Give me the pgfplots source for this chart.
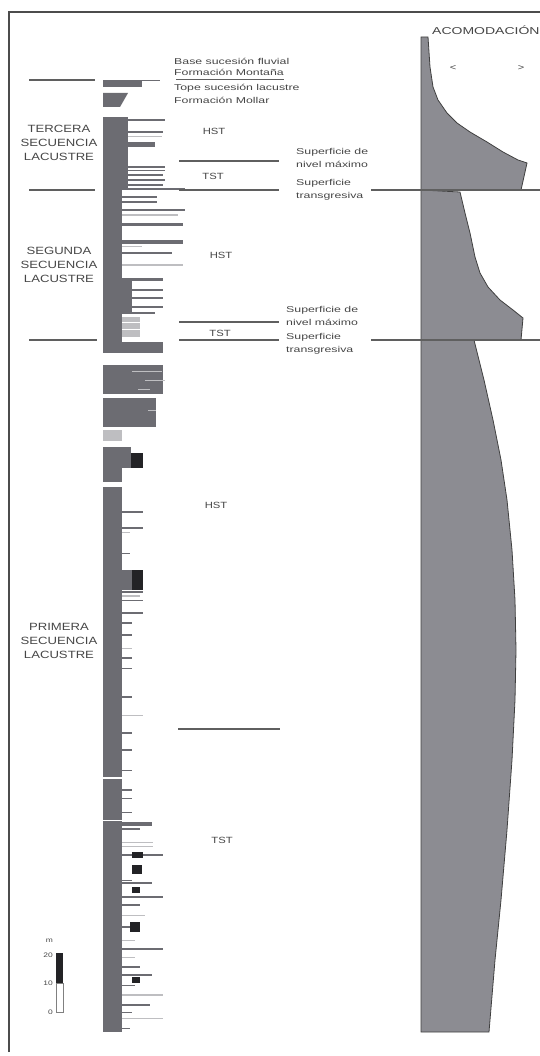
\documentclass[border=0pt]{standalone}
\usepackage{pgfplots}
\pgfplotsset{compat=1.18}
\usepackage{fontspec}
\setmainfont{Liberation Sans}
\usepackage{graphicx}

\definecolor{col}{RGB}{108,108,114}
\definecolor{lite}{RGB}{190,190,193}
\definecolor{blk}{RGB}{35,35,38}
\definecolor{acc}{RGB}{140,140,146}
\definecolor{ln}{RGB}{95,95,95}
\definecolor{txt}{RGB}{70,70,70}

% stretched text, the scan is wide
\newcommand{\sx}[2][1.45]{\scalebox{#1}[1]{#2}}
% block: x1 x2 y1 y2 colour
\newcommand{\blkp}[5]{\addplot[fill=#5,draw=none] coordinates {(#1,#3) (#2,#3) (#2,#4) (#1,#4)} --cycle;}
% bar from column edge: y xright width colour
\newcommand{\hb}[4]{\addplot[#4,line width=#3pt] coordinates {(103,#1) (#2,#1)};}
% segment: x1 x2 y width colour
\newcommand{\seg}[5]{\addplot[#5,line width=#4pt] coordinates {(#1,#3) (#2,#3)};}

\begin{document}
\begin{tikzpicture}
\useasboundingbox (0,0) rectangle (540pt,1056pt);
\clip (0,0) rectangle (540pt,1056pt);
\begin{axis}[at={(0,0)},anchor=south west,
  width=540pt,height=1056pt,scale only axis,hide axis,
  xmin=0,xmax=540,ymin=0,ymax=1056,y dir=reverse,clip=false]

% frame
\addplot[ln!80!black,line width=1.5pt] coordinates {(9,1052) (9,12) (540,12)};

% ---- accommodation curve
\addplot[fill=acc,draw=black!75,line width=0.8pt] coordinates {
(421,37) (428,37) (430,67) (433,87) (438,100) (447,113) (457,123) (470,132)
(487,142) (503,152) (518,160) (527,163) (521,190) (421,190)} --cycle;
\addplot[fill=acc,draw=black!75,line width=0.8pt] coordinates {
(421,190) (460,192) (465,213) (470,233) (475,257) (480,273) (488,287) (500,300)
(513,310) (523,318) (521,340) (421,340)} --cycle;
\addplot[fill=acc,draw=black!75,line width=0.8pt] coordinates {
(421,340) (474,340) (484,380) (493,420) (501,460) (507,500) (512,550) (515,600)
(516,650) (515,700) (512,760) (507,830) (501,900) (495,960) (489,1032) (421,1032)} --cycle;

% ---- column: top
\blkp{103}{142}{80}{87}{col}
\hb{81}{160}{1}{col}
\addplot[fill=col,draw=none] coordinates {(103,93) (128,93) (120,107) (103,107)} --cycle;
% tercera
\blkp{103}{128}{117}{190}{col}
\hb{120}{165}{2}{col}
\hb{132}{163}{1.5}{col}
\seg{128}{162}{137}{1}{lite}
\hb{145}{155}{5}{col}
\hb{167}{165}{2}{col}
\hb{170.5}{165}{1.5}{col}
\hb{175}{163}{2}{col}
\hb{180}{165}{2}{col}
\hb{185}{163}{1.5}{col}
\hb{189}{185}{1.5}{col}
% segunda
\blkp{103}{122}{190}{342}{col}
\blkp{103}{132}{278}{314}{col}
\hb{197}{157}{2}{col}
\hb{202}{157}{2}{col}
\hb{210}{185}{2}{col}
\seg{122}{178}{215}{1.5}{lite}
\hb{225}{183}{3}{col}
\hb{242}{183}{4}{col}
\seg{122}{142}{247}{1}{lite}
\hb{253}{172}{2}{col}
\seg{122}{183}{265}{1.5}{lite}
\hb{280}{163}{3}{col}
\hb{290}{163}{2}{col}
\hb{298}{163}{2}{col}
\hb{307}{163}{2}{col}
\hb{313}{155}{2.5}{col}
\blkp{122}{140}{317}{337}{lite}
\seg{122}{140}{322}{1}{white}
\seg{122}{140}{329}{1}{white}
% primera, upper part
\blkp{103}{163}{342}{353}{col}
\blkp{103}{163}{365}{394}{col}
\seg{132}{162}{371}{1}{lite}
\seg{145}{165}{380}{1}{lite}
\seg{138}{150}{389}{1}{lite}
\blkp{103}{156}{398}{427}{col}
\seg{148}{156}{410}{1}{lite}
\blkp{103}{122}{430}{441}{lite}
\blkp{103}{122}{447}{482}{col}
\blkp{122}{131}{447}{468}{col}
\blkp{131}{143}{453}{468}{blk}
% primera, main column
\blkp{103}{122}{487}{1032}{col}
\hb{512}{143}{2}{col}
\hb{528}{143}{2}{col}
\seg{122}{130}{532}{1}{lite}
\hb{553}{130}{1}{col}
\blkp{122}{132}{570}{590}{col}
\blkp{132}{143}{570}{590}{blk}
\hb{592}{143}{2}{col}
\seg{122}{140}{596}{1.5}{lite}
\hb{600}{143}{1}{col}
\hb{613}{143}{2}{col}
\hb{623}{132}{1.5}{col}
\hb{635}{132}{1.5}{col}
\seg{122}{132}{648}{1}{lite}
\hb{658}{132}{1.5}{col}
\hb{668}{132}{1}{col}
\hb{697}{132}{1.5}{col}
\seg{122}{143}{715}{1}{lite}
\hb{733}{132}{1.5}{col}
\hb{750}{132}{2.5}{col}
\hb{770}{132}{1}{col}
\hb{778}{122}{2.5}{white}
\hb{790}{132}{1.5}{col}
\hb{798}{132}{1}{col}
\hb{812}{132}{1}{col}
\hb{824}{152}{4}{col}
\hb{820.5}{152}{1.2}{white}
\hb{829}{140}{1.5}{col}
\seg{122}{153}{842}{1}{lite}
\seg{122}{153}{846}{1}{lite}
\hb{855}{163}{1.5}{col}
\blkp{132}{143}{852}{858}{blk}
\blkp{132}{142}{865}{874}{blk}
\hb{880}{132}{1}{col}
\hb{883}{152}{1.5}{col}
\blkp{132}{140}{887}{893}{blk}
\hb{897}{163}{2}{col}
\hb{905}{140}{1.5}{col}
\seg{122}{145}{915}{1}{lite}
\hb{927}{140}{1.5}{col}
\blkp{130}{140}{922}{932}{blk}
\seg{122}{135}{940}{1}{lite}
\hb{949}{163}{2}{col}
\seg{122}{135}{957}{1}{lite}
\hb{967}{140}{2}{col}
\hb{975}{152}{1.5}{col}
\blkp{132}{140}{977}{983}{blk}
\hb{985}{135}{1}{col}
\seg{122}{163}{995}{1.5}{lite}
\hb{1005}{150}{1.5}{col}
\hb{1012}{132}{1}{col}
\seg{122}{163}{1018}{1}{lite}
\hb{1028}{130}{1}{col}

% ---- surfaces
\seg{29}{95}{80}{1.2}{ln}
\seg{176}{284}{80}{1}{ln}
\seg{179}{279}{161}{1.2}{ln}
\seg{29}{95}{190}{1.2}{ln}
\seg{179}{279}{190}{1.2}{ln}
\seg{371}{540}{190}{1.2}{ln}
\seg{179}{279}{322}{1.2}{ln}
\seg{29}{97}{340}{1.2}{ln}
\seg{179}{279}{340}{1.2}{ln}
\seg{371}{540}{340}{1.2}{ln}
\seg{178}{280}{729}{1.2}{ln}

% ---- scale bar
\blkp{56}{63}{953}{983}{blk}
\addplot[draw=black!50,line width=0.5pt] coordinates {(56,983) (63,983) (63,1012) (56,1012)} --cycle;

% ---- text
\begin{scope}[every node/.style={text=txt,inner sep=0pt}]
\node[anchor=west,font=\fontsize{8.5}{10}\selectfont] at (axis cs:174,61) {\sx{Base sucesión fluvial}};
\node[anchor=west,font=\fontsize{8.5}{10}\selectfont] at (axis cs:174,72) {\sx{Formación Montaña}};
\node[anchor=west,font=\fontsize{8.5}{10}\selectfont] at (axis cs:174,88) {\sx{Tope sucesión lacustre}};
\node[anchor=west,font=\fontsize{8.5}{10}\selectfont] at (axis cs:174,100) {\sx{Formación Mollar}};

\node[font=\fontsize{10.5}{12}\selectfont] at (axis cs:59,129) {\sx[1.25]{TERCERA}};
\node[font=\fontsize{10.5}{12}\selectfont] at (axis cs:59,143) {\sx[1.25]{SECUENCIA}};
\node[font=\fontsize{10.5}{12}\selectfont] at (axis cs:59,157) {\sx[1.25]{LACUSTRE}};
\node[font=\fontsize{10.5}{12}\selectfont] at (axis cs:59,251) {\sx[1.25]{SEGUNDA}};
\node[font=\fontsize{10.5}{12}\selectfont] at (axis cs:59,265) {\sx[1.25]{SECUENCIA}};
\node[font=\fontsize{10.5}{12}\selectfont] at (axis cs:59,279) {\sx[1.25]{LACUSTRE}};
\node[font=\fontsize{10.5}{12}\selectfont] at (axis cs:59,627) {\sx[1.25]{PRIMERA}};
\node[font=\fontsize{10.5}{12}\selectfont] at (axis cs:59,641) {\sx[1.25]{SECUENCIA}};
\node[font=\fontsize{10.5}{12}\selectfont] at (axis cs:59,655) {\sx[1.25]{LACUSTRE}};

\node[font=\fontsize{9}{10}\selectfont] at (axis cs:214,131) {\sx[1.25]{HST}};
\node[font=\fontsize{9}{10}\selectfont] at (axis cs:213,176) {\sx[1.25]{TST}};
\node[font=\fontsize{9}{10}\selectfont] at (axis cs:221,255) {\sx[1.25]{HST}};
\node[font=\fontsize{9}{10}\selectfont] at (axis cs:220,333) {\sx[1.25]{TST}};
\node[font=\fontsize{9}{10}\selectfont] at (axis cs:216,505) {\sx[1.25]{HST}};
\node[font=\fontsize{9}{10}\selectfont] at (axis cs:222,840) {\sx[1.25]{TST}};

\node[anchor=west,font=\fontsize{8.5}{10}\selectfont] at (axis cs:296,152) {\sx{Superficie de}};
\node[anchor=west,font=\fontsize{8.5}{10}\selectfont] at (axis cs:296,164) {\sx{nivel máximo}};
\node[anchor=west,font=\fontsize{8.5}{10}\selectfont] at (axis cs:296,183) {\sx{Superficie}};
\node[anchor=west,font=\fontsize{8.5}{10}\selectfont] at (axis cs:296,196) {\sx{transgresiva}};
\node[anchor=west,font=\fontsize{8.5}{10}\selectfont] at (axis cs:286,310) {\sx{Superficie de}};
\node[anchor=west,font=\fontsize{8.5}{10}\selectfont] at (axis cs:286,322) {\sx{nivel máximo}};
\node[anchor=west,font=\fontsize{8.5}{10}\selectfont] at (axis cs:286,337) {\sx{Superficie}};
\node[anchor=west,font=\fontsize{8.5}{10}\selectfont] at (axis cs:286,350) {\sx{transgresiva}};

\node[anchor=west,font=\fontsize{10}{12}\selectfont] at (axis cs:432,30) {\sx[1.4]{ACOMODACIÓN}};
\node[font=\fontsize{8.5}{10}\selectfont] at (axis cs:453,68) {\sx[1.3]{<}};
\node[font=\fontsize{8.5}{10}\selectfont] at (axis cs:521,68) {\sx[1.3]{>}};

\node[anchor=east,font=\fontsize{6.5}{8}\selectfont] at (axis cs:53,941) {\sx[1.3]{m}};
\node[anchor=east,font=\fontsize{6.5}{8}\selectfont] at (axis cs:53,955) {\sx[1.3]{20}};
\node[anchor=east,font=\fontsize{6.5}{8}\selectfont] at (axis cs:53,983) {\sx[1.3]{10}};
\node[anchor=east,font=\fontsize{6.5}{8}\selectfont] at (axis cs:53,1012) {\sx[1.3]{0}};
\end{scope}
\end{axis}
\end{tikzpicture}
\end{document}
